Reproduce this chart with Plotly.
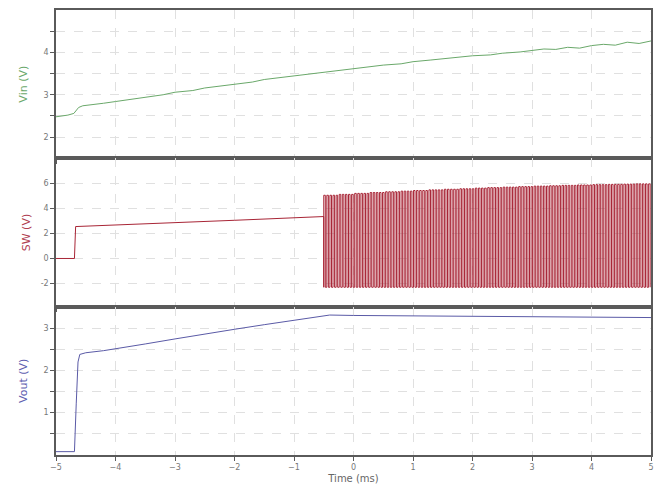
import numpy as np
import plotly.graph_objects as go
from plotly.subplots import make_subplots

# ---- data ----
vin_t = [-5.0, -4.9, -4.8, -4.7, -4.62, -4.55, -4.4, -4.2, -4.0, -3.8, -3.5, -3.2, -3.0, -2.7, -2.5, -2.2,
         -2.0, -1.7, -1.5, -1.2, -1.0, -0.7, -0.5, -0.2, 0.0, 0.3, 0.5, 0.8, 1.0, 1.3, 1.5, 1.8, 2.0,
         2.3, 2.5, 2.8, 3.0, 3.2, 3.4, 3.6, 3.8, 4.0, 4.2, 4.4, 4.6, 4.8, 5.0]
vin_v = [2.48, 2.50, 2.52, 2.56, 2.70, 2.74, 2.76, 2.80, 2.84, 2.88, 2.95, 3.00, 3.06, 3.10, 3.16, 3.21,
         3.26, 3.30, 3.36, 3.41, 3.46, 3.50, 3.54, 3.58, 3.62, 3.66, 3.70, 3.73, 3.78, 3.82, 3.85, 3.88, 3.92,
         3.94, 3.98, 4.01, 4.04, 4.08, 4.07, 4.12, 4.10, 4.16, 4.19, 4.17, 4.24, 4.21, 4.27]

sw_pre_t = [-5.0, -4.69, -4.67, -4.5, -4.0, -3.0, -2.0, -1.0, -0.5]
sw_pre_v = [0.0, 0.0, 2.55, 2.58, 2.68, 2.88, 3.05, 3.25, 3.35]
sw_start = -0.5            # ms, switching begins
sw_period = 0.052          # ms, apparent switching period
sw_duty = 0.5
sw_low = -2.3              # V
sw_seg_start = [-0.5, -0.25, 0.0, 0.25, 0.5, 0.75, 1.0, 1.25, 1.5, 1.75, 2.0, 2.25,
                2.5, 2.75, 3.0, 3.25, 3.5, 3.75, 4.0, 4.25, 4.5, 4.75]   # ms
sw_seg_high = [5.05, 5.12, 5.2, 5.27, 5.33, 5.38, 5.43, 5.48, 5.53, 5.57, 5.62, 5.66,
               5.7, 5.74, 5.78, 5.81, 5.84, 5.87, 5.9, 5.92, 5.94, 5.96]  # V

vout_t = [-5.0, -4.69, -4.66, -4.63, -4.6, -4.5, -4.2, -4.0, -3.5, -3.0, -2.5, -2.0, -1.5, -1.0, -0.6,
          -0.4, 0.0, 1.0, 2.0, 3.0, 4.0, 5.0]
vout_v = [0.06, 0.06, 1.2, 2.2, 2.38, 2.42, 2.47, 2.52, 2.63, 2.75, 2.87, 2.98, 3.09, 3.2, 3.29,
          3.32, 3.31, 3.30, 3.29, 3.28, 3.27, 3.26]

x_ticks = [-5, -4, -3, -2, -1, 0, 1, 2, 3, 4, 5]

# ---- build SW waveform from the switching parameters ----
sw_t = list(sw_pre_t)
sw_v = list(sw_pre_v)
n_cycles = int(round((5.0 - sw_start) / sw_period))
for k in range(n_cycles):
    t0 = sw_start + k * sw_period
    seg = max(i for i, s in enumerate(sw_seg_start) if s <= t0 + 1e-9)
    hi = sw_seg_high[seg]
    t1 = min(t0 + sw_duty * sw_period, 5.0)
    sw_t += [t0, t0, t1, t1]
    sw_v += [sw_low, hi, hi, sw_low]

fig = make_subplots(rows=3, cols=1, shared_xaxes=True, vertical_spacing=0)

fig.add_trace(go.Scatter(x=vin_t, y=vin_v, mode="lines",
                         line=dict(color="#6aa86a", width=1)), row=1, col=1)
fig.add_trace(go.Scatter(x=sw_t, y=sw_v, mode="lines",
                         line=dict(color="#a82536", width=1)), row=2, col=1)
fig.add_trace(go.Scatter(x=vout_t, y=vout_v, mode="lines",
                         line=dict(color="#5a5aa6", width=1)), row=3, col=1)

axis_common = dict(showline=True, mirror=True, linecolor="#5a5a5a", linewidth=1.5,
                   gridcolor="#e0e0e0", griddash="dash", gridwidth=1, zeroline=False,
                   ticks="outside", ticklen=4, tickcolor="#5a5a5a",
                   tickfont=dict(family="DejaVu Sans", size=8, color="#777"))

for r in (1, 2, 3):
    fig.update_xaxes(range=[-5, 5], tickvals=x_ticks, showticklabels=(r == 3),
                     **axis_common, row=r, col=1)

fig.update_xaxes(title=dict(text="Time (ms)", font=dict(family="DejaVu Sans", size=10, color="#666"),
                            standoff=4), row=3, col=1)

vin_tv = [2, 2.5, 3, 3.5, 4, 4.5]
fig.update_yaxes(range=[1.5, 5.0], tickvals=vin_tv,
                 ticktext=[str(v) if v == int(v) else "" for v in vin_tv],
                 title=dict(text="Vin (V)", font=dict(family="DejaVu Sans", size=11, color="#6aa86a"),
                            standoff=14),
                 **axis_common, row=1, col=1)
sw_tv = [-2, 0, 2, 4, 6]
fig.update_yaxes(range=[-3.85, 8.0], tickvals=sw_tv, ticktext=[str(v) for v in sw_tv],
                 title=dict(text="SW (V)", font=dict(family="DejaVu Sans", size=11, color="#b04050"),
                            standoff=8),
                 **axis_common, row=2, col=1)
vout_tv = [0.5, 1, 1.5, 2, 2.5, 3]
fig.update_yaxes(range=[-0.02, 3.52], tickvals=vout_tv,
                 ticktext=[str(int(v)) if v == int(v) else "" for v in vout_tv],
                 title=dict(text="Vout (V)", font=dict(family="DejaVu Sans", size=11, color="#6060b0"),
                            standoff=14),
                 **axis_common, row=3, col=1)

fig.update_layout(width=667, height=494, showlegend=False,
                  margin=dict(l=56, r=16, t=8, b=39),
                  paper_bgcolor="white", plot_bgcolor="white")

fig.write_html("out.html")
